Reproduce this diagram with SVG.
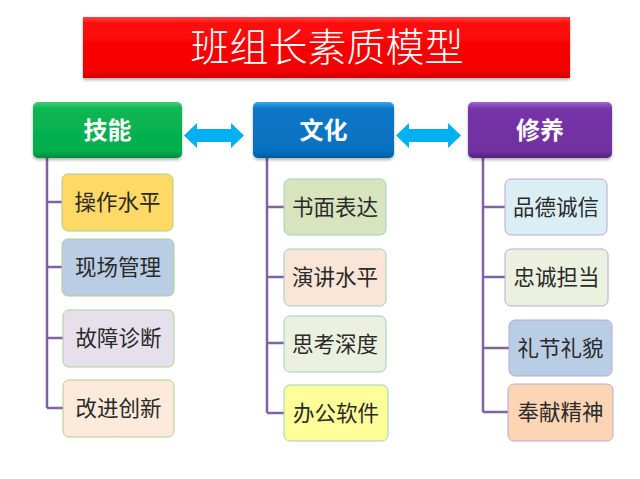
<svg xmlns="http://www.w3.org/2000/svg" width="640" height="479" viewBox="0 0 640 479">
<defs>
<linearGradient id="gRed" x1="0" y1="0" x2="0" y2="1"><stop offset="0" stop-color="#ff4040"/><stop offset="0.12" stop-color="#ff0a0a"/><stop offset="0.9" stop-color="#f20000"/><stop offset="1" stop-color="#c80000"/></linearGradient>
<linearGradient id="gGreen" x1="0" y1="0" x2="0" y2="1"><stop offset="0" stop-color="#3fd07a"/><stop offset="0.12" stop-color="#0db652"/><stop offset="0.88" stop-color="#00ae4e"/><stop offset="1" stop-color="#008a3c"/></linearGradient>
<linearGradient id="gBlue" x1="0" y1="0" x2="0" y2="1"><stop offset="0" stop-color="#3aa8f0"/><stop offset="0.12" stop-color="#0b76c6"/><stop offset="0.88" stop-color="#0670c0"/><stop offset="1" stop-color="#045a9c"/></linearGradient>
<linearGradient id="gPurple" x1="0" y1="0" x2="0" y2="1"><stop offset="0" stop-color="#a266d6"/><stop offset="0.12" stop-color="#7634a8"/><stop offset="0.88" stop-color="#7030a0"/><stop offset="1" stop-color="#56207e"/></linearGradient>
<filter id="sh" x="-10%" y="-10%" width="120%" height="130%"><feDropShadow dx="0" dy="2" stdDeviation="1.5" flood-color="#000" flood-opacity="0.3"/></filter>
</defs>
<style>
.hdr{font-family:"Noto Sans CJK SC","Noto Sans",sans-serif;font-weight:bold;font-size:24px;fill:#fff;text-anchor:middle}
.ttl{font-family:"Noto Sans CJK SC","Noto Sans",sans-serif;font-weight:300;font-size:39px;fill:#fff;text-anchor:middle}
.lbl{font-family:"Noto Sans CJK SC","Noto Sans",sans-serif;font-weight:400;font-size:21.5px;fill:#2a2a2a;text-anchor:middle}
.bx{stroke-width:1}
.c1{stroke:#a9d18e}
.c2{stroke:#9ccfc0}
.c3{stroke:#b8a8d6}
.ln{stroke:#8064a2;stroke-width:2.5;fill:none}
.arr{fill:#00b0f0}
</style>
<g id="title">
<rect x="83" y="17" width="487" height="61" fill="url(#gRed)" filter="url(#sh)"/>
<text class="ttl" x="327" y="61">班组长素质模型</text>
</g>
<g id="connectors">
<path class="ln" d="M47 158V408M47 202H62M47 267H62M47 338H63M47 408H63"/>
<path class="ln" d="M267 158V413M267 207H284M267 277H284M267 343H284M267 413H284"/>
<path class="ln" d="M483 158V412M483 207H505M483 277H505M483 348H509M483 412H508"/>
<path class="arr" d="M184 135.5L197 123V129H231V123L244 135.5L231 148V142H197V148Z"/>
<path class="arr" d="M396 135.5L409 123V129H448V123L461 135.5L448 148V142H409V148Z"/>
</g>
<g id="skill">
<rect x="33" y="102" width="149" height="56" rx="5" fill="url(#gGreen)" filter="url(#sh)"/>
<text class="hdr" x="107.5" y="139">技能</text>
</g>
<g id="culture">
<rect x="253" y="102" width="141" height="56" rx="5" fill="url(#gBlue)" filter="url(#sh)"/>
<text class="hdr" x="323.5" y="139">文化</text>
</g>
<g id="cultivation">
<rect x="468" y="102" width="144" height="56" rx="5" fill="url(#gPurple)" filter="url(#sh)"/>
<text class="hdr" x="540" y="139">修养</text>
</g>
<g id="n1"><rect class="bx c1" x="62" y="174" width="111" height="57" rx="6" fill="#ffd966"/><text class="lbl" x="117.5" y="210">操作水平</text></g>
<g id="n2"><rect class="bx c1" x="62" y="239" width="112" height="57" rx="6" fill="#b9cde5"/><text class="lbl" x="118" y="275">现场管理</text></g>
<g id="n3"><rect class="bx c1" x="63" y="310" width="111" height="57" rx="6" fill="#e6e0ec"/><text class="lbl" x="118.5" y="346">故障诊断</text></g>
<g id="n4"><rect class="bx c1" x="63" y="380" width="111" height="57" rx="6" fill="#fdeada"/><text class="lbl" x="118.5" y="416">改进创新</text></g>
<g id="n5"><rect class="bx c2" x="284" y="179" width="102" height="56" rx="6" fill="#d7e4bd"/><text class="lbl" x="335" y="215">书面表达</text></g>
<g id="n6"><rect class="bx c2" x="284" y="249" width="102" height="57" rx="6" fill="#fbe5d6"/><text class="lbl" x="335" y="285">演讲水平</text></g>
<g id="n7"><rect class="bx c2" x="284" y="316" width="102" height="56" rx="6" fill="#ebf1de"/><text class="lbl" x="335" y="352">思考深度</text></g>
<g id="n8"><rect class="bx c2" x="284" y="385" width="104" height="56" rx="6" fill="#ffff99"/><text class="lbl" x="336" y="421">办公软件</text></g>
<g id="n9"><rect class="bx c3" x="505" y="179" width="102" height="56" rx="6" fill="#daeef3"/><text class="lbl" x="556" y="215">品德诚信</text></g>
<g id="n10"><rect class="bx c3" x="505" y="249" width="103" height="57" rx="6" fill="#ebf1de"/><text class="lbl" x="556.5" y="285">忠诚担当</text></g>
<g id="n11"><rect class="bx c3" x="509" y="320" width="103" height="56" rx="6" fill="#b9cde5"/><text class="lbl" x="560.5" y="356">礼节礼貌</text></g>
<g id="n12"><rect class="bx c3" x="508" y="384" width="105" height="57" rx="6" fill="#fcd5b5"/><text class="lbl" x="560.5" y="420">奉献精神</text></g>
</svg>
